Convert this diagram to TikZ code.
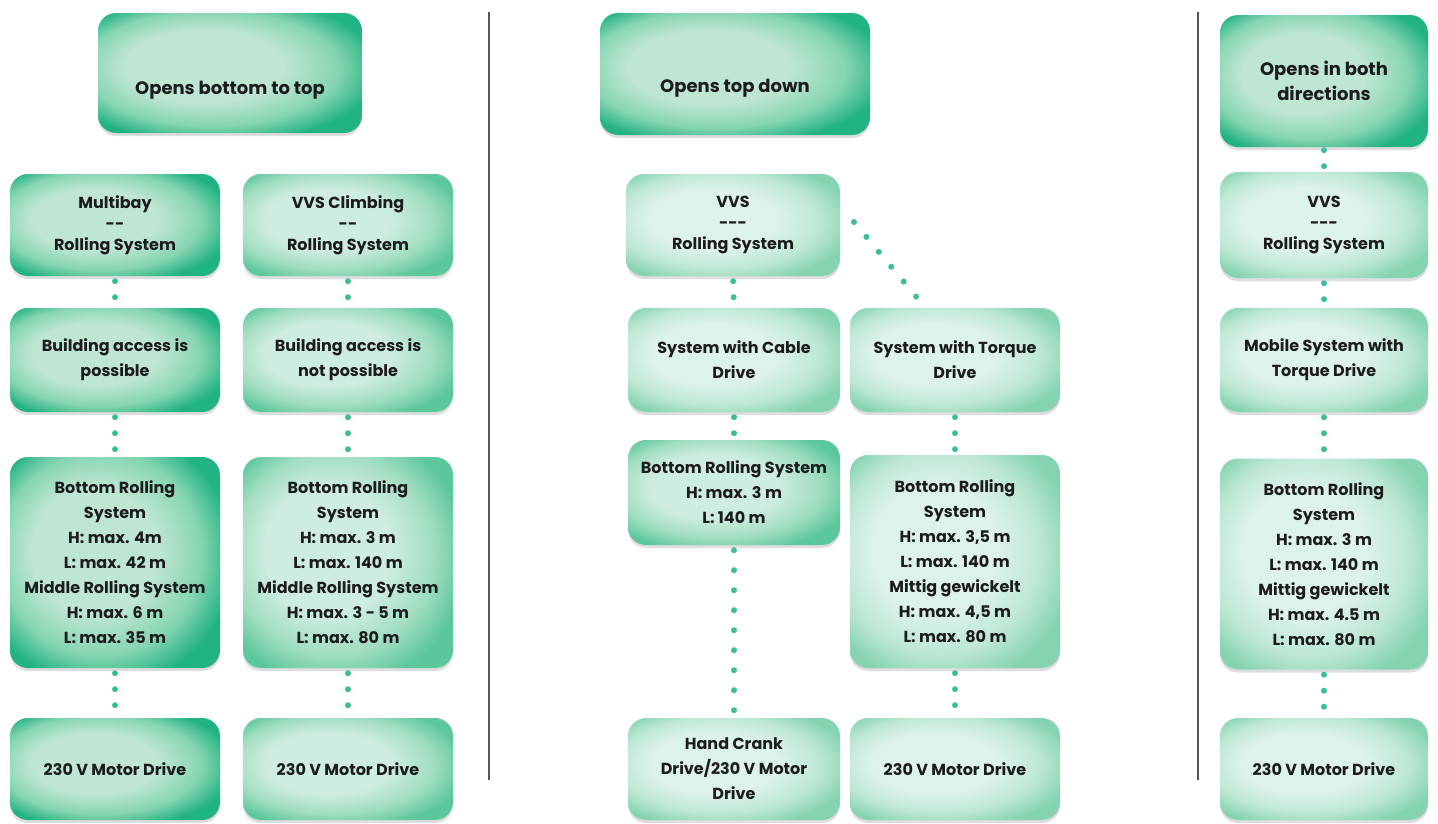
\documentclass[tikz,border=0pt]{standalone}
\usepackage{fontspec}
\setmainfont{Poppins}
\usetikzlibrary{shadows}
\definecolor{dHi}{HTML}{BFE6D3}
\definecolor{dMid}{HTML}{86D5B2}
\definecolor{dEdge}{HTML}{22B383}
\definecolor{mHi}{HTML}{CFEDDF}
\definecolor{mMid}{HTML}{A0DDC1}
\definecolor{mEdge}{HTML}{5CC79D}
\definecolor{lHi}{HTML}{DDF2E8}
\definecolor{lMid}{HTML}{BCE7D3}
\definecolor{lEdge}{HTML}{86D3B2}
\definecolor{dotc}{HTML}{3DBE9A}
\definecolor{txt}{HTML}{1C1C1C}
\definecolor{divc}{HTML}{555555}
\pgfdeclareradialshading{boxdark}{\pgfpoint{-7bp}{4bp}}{color(0bp)=(dHi); color(15bp)=(dHi); color(24bp)=(dMid); color(31bp)=(dEdge); color(50bp)=(dEdge)}
\pgfdeclareradialshading{boxmid}{\pgfpoint{-7bp}{4bp}}{color(0bp)=(mHi); color(15bp)=(mHi); color(24bp)=(mMid); color(31bp)=(mEdge); color(50bp)=(mEdge)}
\pgfdeclareradialshading{boxlight}{\pgfpoint{-7bp}{4bp}}{color(0bp)=(lHi); color(15bp)=(lHi); color(24bp)=(lMid); color(31bp)=(lEdge); color(50bp)=(lEdge)}
\tikzset{
  box/.style={rectangle, rounded corners=18pt, inner sep=0pt, align=center,
    text=txt, font=\fontsize{16}{25}\selectfont\bfseries,
    drop shadow={shadow xshift=0pt, shadow yshift=-3pt, fill=black!22, opacity=0.6}},
  dark/.style={box, shading=boxdark},
  mid/.style={box, shading=boxmid},
  light/.style={box, shading=boxlight},
  tight/.style={font=\fontsize{16}{21}\selectfont\bfseries},
  topbox/.style={font=\fontsize{18}{25}\selectfont\bfseries},
  conn/.style={draw=dotc, line width=6pt, line cap=round, dash pattern=on 0pt off 16pt,
    shorten <=5pt, shorten >=5pt},
  longconn/.style={conn, dash pattern=on 0pt off 20pt},
  divider/.style={draw=divc, line width=1.4pt}
}
\begin{document}
\begin{tikzpicture}[x=1pt, y=-1pt]
\path[fill=white] (0,0) rectangle (1438,823);
\useasboundingbox (0,0) rectangle (1438,823);
% dividers
\coordinate (v1a) at (489,12); \coordinate (v1b) at (489,780);
\coordinate (v2a) at (1198,12); \coordinate (v2b) at (1198,780);
\draw[divider] (v1a) -- (v1b);
\draw[divider] (v2a) -- (v2b);
% column 1
\node[dark, topbox, minimum width=264pt, minimum height=120pt] (top1) at (230,73) {\raisebox{-21pt}[0pt][0pt]{Opens bottom to top}};
\node[dark, tight, minimum width=210pt, minimum height=102pt] (mb) at (115,225) {Multibay\\-{}-\\Rolling System};
\node[mid, tight, minimum width=210pt, minimum height=102pt] (vc) at (348,225) {VVS Climbing\\-{}-\\Rolling System};
\node[dark, minimum width=210pt, minimum height=104pt] (bp) at (115,360) {Building access is\\possible};
\node[mid, minimum width=210pt, minimum height=104pt] (bn) at (348,360) {Building access is\\not possible};
\node[dark, minimum width=210pt, minimum height=211pt] (br1) at (115,562.5) {Bottom Rolling\\System\\H: max. 4m\\L: max. 42 m\\Middle Rolling System\\H: max. 6 m\\L: max. 35 m};
\node[mid, minimum width=210pt, minimum height=211pt] (br2) at (348,562.5) {Bottom Rolling\\System\\H: max. 3 m\\L: max. 140 m\\Middle Rolling System\\H: max. 3 - 5 m\\L: max. 80 m};
\node[dark, minimum width=210pt, minimum height=102pt] (m1) at (115,769) {230 V Motor Drive};
\node[mid, minimum width=210pt, minimum height=102pt] (m2) at (348,769) {230 V Motor Drive};
% column 2
\node[dark, topbox, minimum width=270pt, minimum height=122pt] (top2) at (735,74) {\raisebox{-18pt}[0pt][0pt]{Opens top down}};
\node[light, tight, minimum width=214pt, minimum height=102pt] (vvs2) at (733,225) {VVS\\-{}-{}-\\Rolling System};
\node[light, minimum width=212pt, minimum height=104pt] (cab) at (734,360) {System with Cable\\Drive};
\node[light, minimum width=210pt, minimum height=104pt] (tor) at (955,360) {System with Torque\\Drive};
\node[mid, minimum width=212pt, minimum height=105pt] (cabB) at (734,492.5) {Bottom Rolling System\\H: max. 3 m\\L: 140 m};
\node[light, minimum width=210pt, minimum height=213pt] (torB) at (955,561.5) {Bottom Rolling\\System\\H: max. 3,5 m\\L: max. 140 m\\Mittig gewickelt\\H: max. 4,5 m\\L: max. 80 m};
\node[light, minimum width=212pt, minimum height=102pt] (hc) at (734,769) {Hand Crank\\Drive/230 V Motor\\Drive};
\node[light, minimum width=210pt, minimum height=102pt] (m3) at (955,769) {230 V Motor Drive};
% column 3
\node[dark, topbox, minimum width=208pt, minimum height=132pt] (top3) at (1324,81) {Opens in both\\directions};
\node[light, tight, minimum width=208pt, minimum height=106pt] (vvs3) at (1324,225) {VVS\\-{}-{}-\\Rolling System};
\node[light, minimum width=208pt, minimum height=104pt] (mob) at (1324,360) {Mobile System with\\Torque Drive};
\node[light, minimum width=208pt, minimum height=211pt] (br3) at (1324,564) {Bottom Rolling\\System\\H: max. 3 m\\L: max. 140 m\\Mittig gewickelt\\H: max. 4.5 m\\L: max. 80 m};
\node[light, minimum width=208pt, minimum height=102pt] (m4) at (1324,769) {230 V Motor Drive};
% connectors column 1
\draw[conn] (mb.south) -- (bp.north);
\draw[conn] (bp.south) -- (br1.north);
\draw[conn] (br1.south) -- (m1.north);
\draw[conn] (vc.south) -- (bn.north);
\draw[conn] (bn.south) -- (br2.north);
\draw[conn] (br2.south) -- (m2.north);
% connectors column 2
\draw[conn] (vvs2.south) -- (cab.north);
\coordinate (dA) at (854,222);
\coordinate (dB) at (916.5,297);
\draw[conn, dash pattern=on 0pt off 19.4pt, shorten <=0pt, shorten >=-0.5pt] (dA) -- (dB);
\draw[conn] (cab.south) -- (cabB.north);
\draw[longconn] (cabB.south) -- (hc.north);
\draw[conn] (tor.south) -- (torB.north);
\draw[conn] (torB.south) -- (m3.north);
% connectors column 3
\draw[conn, shorten <=3pt, shorten >=3pt] (top3.south) -- (vvs3.north);
\draw[conn] (vvs3.south) -- (mob.north);
\draw[conn] (mob.south) -- (br3.north);
\draw[conn] (br3.south) -- (m4.north);
\end{tikzpicture}
\end{document}
